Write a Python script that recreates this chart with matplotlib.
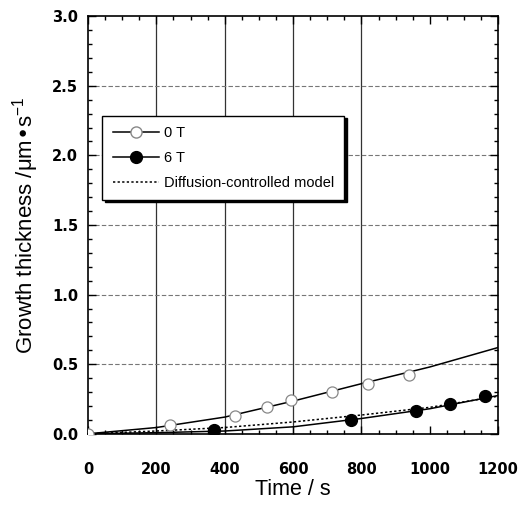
import numpy as np
import matplotlib
matplotlib.use("Agg")
import matplotlib.pyplot as plt
from matplotlib.ticker import MultipleLocator

# measured points
t_0T = [0, 240, 430, 525, 595, 715, 820, 940]
d_0T = [0.0, 0.06, 0.125, 0.19, 0.245, 0.30, 0.36, 0.42]
t_6T = [370, 770, 960, 1060, 1160]
d_6T = [0.025, 0.10, 0.165, 0.215, 0.27]

# fitted curves
fit_t = [0, 200, 400, 600, 800, 1000, 1200]
fit_0T = [0.0, 0.045, 0.12, 0.235, 0.36, 0.48, 0.62]
fit_6T = [0.0, 0.008, 0.02, 0.05, 0.11, 0.18, 0.275]
model = [0.0, 0.02, 0.045, 0.085, 0.135, 0.19, 0.27]

plt.rcParams['font.family'] = ['Liberation Sans', 'DejaVu Sans']

fig = plt.figure(figsize=(5.3, 5.05), dpi=100)
ax = fig.add_axes([0.166, 0.141, 0.774, 0.827])

for x in [200, 400, 600, 800]:
    ax.axvline(x, color='#333333', lw=0.9, zorder=0)
for y in [0.5, 1.0, 1.5, 2.0, 2.5]:
    ax.axhline(y, color='#777777', lw=0.8, ls=(0, (4, 2)), zorder=0)

ax.plot(fit_t, fit_0T, color='black', lw=1.1, zorder=2)
ax.plot(fit_t, fit_6T, color='black', lw=1.1, zorder=2)
ax.plot(fit_t, model, color='black', lw=1.1, ls=(0, (1.5, 1.5)), zorder=2)
ax.plot(t_0T, d_0T, 'o', ms=8, mfc='white', mec='#888888', mew=0.9, zorder=3)
ax.plot(t_6T, d_6T, 'o', ms=8.5, mfc='black', mec='black', zorder=3)

# legend proxies
h0, = ax.plot([], [], '-o', color='black', lw=1.1, ms=8, mfc='white', mec='#888888')
h6, = ax.plot([], [], '-o', color='black', lw=1.1, ms=8.5, mfc='black')
hm, = ax.plot([], [], color='black', lw=1.1, ls=(0, (1.5, 1.5)))
leg = ax.legend([h0, h6, hm], ['0 T', '6 T', 'Diffusion-controlled model'],
                loc='upper left', bbox_to_anchor=(0.035, 0.762), fontsize=10.5,
                handlelength=3.2, handletextpad=0.3, labelspacing=0.75,
                borderpad=0.7, borderaxespad=0, fancybox=False,
                shadow={'color': 'black', 'alpha': 1, 'ox': 1.8, 'oy': -1.8},
                framealpha=1, edgecolor='black')
leg.get_frame().set_linewidth(1.0)

ax.set_xlim(0, 1200)
ax.set_ylim(0, 3.0)
ax.xaxis.set_major_locator(MultipleLocator(200))
ax.xaxis.set_minor_locator(MultipleLocator(50))
ax.yaxis.set_major_locator(MultipleLocator(0.5))
ax.yaxis.set_minor_locator(MultipleLocator(0.1))
ax.tick_params(which='both', direction='in', top=True, right=True, width=1.0)
ax.tick_params(which='major', length=6)
ax.tick_params(which='minor', length=3)
ax.tick_params(axis='x', pad=20)
ax.tick_params(axis='y', pad=7)
ax.set_xticks([0, 200, 400, 600, 800, 1000, 1200])
ax.set_xticklabels(['0', '200', '400', '600', '800', '1000', '1200'],
                   fontweight='bold', fontsize=10.5, family='DejaVu Sans')
ax.set_yticks([0, 0.5, 1.0, 1.5, 2.0, 2.5, 3.0])
ax.set_yticklabels(['0.0', '0.5', '1.0', '1.5', '2.0', '2.5', '3.0'],
                   fontweight='bold', fontsize=10.5, family='DejaVu Sans')
for s in ax.spines.values():
    s.set_linewidth(1.2)

ax.set_xlabel('Time / s', fontsize=15.5, labelpad=2)
ax.set_ylabel('Growth thickness /μm•s$^{\\mathregular{-1}}$', fontsize=16, labelpad=8)

fig.savefig('out.png', dpi=100)
